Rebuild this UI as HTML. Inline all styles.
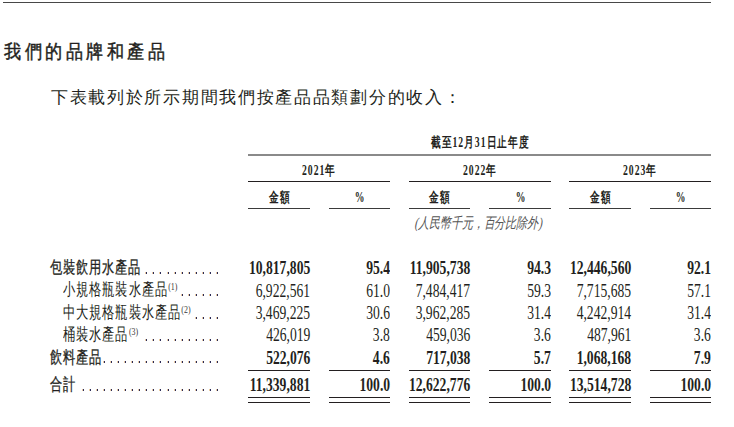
<!DOCTYPE html>
<html lang="zh-Hant"><head><meta charset="utf-8"><style>
html,body{margin:0;padding:0;background:#fff}
body{width:734px;height:427px;position:relative;overflow:hidden;font-family:"Liberation Serif",serif;color:#231f20}
.a{position:absolute;white-space:nowrap;line-height:1}
.r{position:absolute;background:#231f20;height:1px}
.d{position:absolute;width:2px;height:2px;background:linear-gradient(to right,#e9c9a0 50%,#2c2c58 50%)}
.n{position:absolute;white-space:nowrap;line-height:1;font-size:18.3px;transform-origin:100% 0;transform:scaleX(0.745);text-align:right}
.b{font-weight:bold}
.h{font-size:14px;font-weight:bold;letter-spacing:1.5px}
.l{font-size:17px;letter-spacing:1.2px;transform-origin:0 0;transform:scaleX(0.72)}
.lb{-webkit-text-stroke:0.3px #231f20;letter-spacing:1.1px}
</style></head><body>

<div class="r" style="left:3px;top:2px;width:708px;background:#484848"></div>
<div class="a" style="left:4px;top:41.9px;font-size:19px;letter-spacing:3.8px;transform-origin:0 0;transform:scaleX(0.9);-webkit-text-stroke:0.45px #231f20">我們的品牌和產品</div>
<div class="a" style="left:51px;top:90px;font-size:16.5px;letter-spacing:1.7px">下表載列於所示期間我們按產品品類劃分的收入：</div>
<div class="a h" style="left:431px;top:136px;transform-origin:0 0;transform:scaleX(0.69)">截至12月31日止年度</div>
<div class="r" style="left:248px;top:154px;width:463px;height:2px;background:#8a8a8a"></div>
<div class="a h" style="left:319.0px;top:163.5px;transform:translateX(-50%) scaleX(0.69)">2021年</div>
<div class="r" style="left:248px;top:181px;width:142px"></div>
<div class="a h" style="left:480.0px;top:163.5px;transform:translateX(-50%) scaleX(0.69)">2022年</div>
<div class="r" style="left:409px;top:181px;width:142px"></div>
<div class="a h" style="left:640.0px;top:163.5px;transform:translateX(-50%) scaleX(0.69)">2023年</div>
<div class="r" style="left:569px;top:181px;width:142px"></div>
<div class="a h" style="left:279.5px;top:190.5px;transform:translateX(-50%) scaleX(0.69)">金額</div>
<div class="r" style="left:248px;top:208px;width:62px;background:#3a3a3a"></div>
<div class="a h" style="left:360.0px;top:190.5px;transform:translateX(-50%) scaleX(0.69)">%</div>
<div class="r" style="left:329px;top:208px;width:61px;background:#3a3a3a"></div>
<div class="a h" style="left:440.0px;top:190.5px;transform:translateX(-50%) scaleX(0.69)">金額</div>
<div class="r" style="left:409px;top:208px;width:61px;background:#3a3a3a"></div>
<div class="a h" style="left:520.5px;top:190.5px;transform:translateX(-50%) scaleX(0.69)">%</div>
<div class="r" style="left:489px;top:208px;width:62px;background:#3a3a3a"></div>
<div class="a h" style="left:600.5px;top:190.5px;transform:translateX(-50%) scaleX(0.69)">金額</div>
<div class="r" style="left:569px;top:208px;width:62px;background:#3a3a3a"></div>
<div class="a h" style="left:681.0px;top:190.5px;transform:translateX(-50%) scaleX(0.69)">%</div>
<div class="r" style="left:650px;top:208px;width:61px;background:#3a3a3a"></div>
<div class="a" style="left:479px;top:216.2px;font-size:15px;color:#555;transform:translateX(-50%) scaleX(0.73) skewX(-16deg)">(人民幣千元，百分比除外)</div>
<div class="a l lb" style="left:50px;top:259.03px">包裝飲用水產品</div>
<div class="n b" style="right:424px;top:259.30px">10,817,805</div>
<div class="n b" style="right:344px;top:259.30px">95.4</div>
<div class="n b" style="right:264px;top:259.30px">11,905,738</div>
<div class="n b" style="right:183px;top:259.30px">94.3</div>
<div class="n b" style="right:103px;top:259.30px">12,446,560</div>
<div class="n b" style="right:23px;top:259.30px">92.1</div>
<div class="d" style="left:145px;top:272px"></div>
<div class="d" style="left:152px;top:272px"></div>
<div class="d" style="left:159px;top:272px"></div>
<div class="d" style="left:167px;top:272px"></div>
<div class="d" style="left:174px;top:272px"></div>
<div class="d" style="left:181px;top:272px"></div>
<div class="d" style="left:188px;top:272px"></div>
<div class="d" style="left:195px;top:272px"></div>
<div class="d" style="left:202px;top:272px"></div>
<div class="d" style="left:209px;top:272px"></div>
<div class="d" style="left:216px;top:272px"></div>
<div class="a l" style="left:63.3px;top:281.43px">小規格瓶裝水產品<span style="font-size:11px;line-height:0;vertical-align:5.2px;color:#3a3a3a;margin-left:0.5px;letter-spacing:0">(1)</span></div>
<div class="n" style="right:424px;top:281.70px">6,922,561</div>
<div class="n" style="right:344px;top:281.70px">61.0</div>
<div class="n" style="right:264px;top:281.70px">7,484,417</div>
<div class="n" style="right:183px;top:281.70px">59.3</div>
<div class="n" style="right:103px;top:281.70px">7,715,685</div>
<div class="n" style="right:23px;top:281.70px">57.1</div>
<div class="d" style="left:181px;top:294px"></div>
<div class="d" style="left:188px;top:294px"></div>
<div class="d" style="left:195px;top:294px"></div>
<div class="d" style="left:202px;top:294px"></div>
<div class="d" style="left:209px;top:294px"></div>
<div class="d" style="left:216px;top:294px"></div>
<div class="a l" style="left:63.3px;top:304.03px">中大規格瓶裝水產品<span style="font-size:11px;line-height:0;vertical-align:5.2px;color:#3a3a3a;margin-left:0.5px;letter-spacing:0">(2)</span></div>
<div class="n" style="right:424px;top:304.30px">3,469,225</div>
<div class="n" style="right:344px;top:304.30px">30.6</div>
<div class="n" style="right:264px;top:304.30px">3,962,285</div>
<div class="n" style="right:183px;top:304.30px">31.4</div>
<div class="n" style="right:103px;top:304.30px">4,242,914</div>
<div class="n" style="right:23px;top:304.30px">31.4</div>
<div class="d" style="left:195px;top:317px"></div>
<div class="d" style="left:202px;top:317px"></div>
<div class="d" style="left:209px;top:317px"></div>
<div class="d" style="left:216px;top:317px"></div>
<div class="a l" style="left:63.3px;top:326.13px">桶裝水產品<span style="font-size:11px;line-height:0;vertical-align:5.2px;color:#3a3a3a;margin-left:0.5px;letter-spacing:0">(3)</span></div>
<div class="n" style="right:424px;top:326.40px">426,019</div>
<div class="n" style="right:344px;top:326.40px">3.8</div>
<div class="n" style="right:264px;top:326.40px">459,036</div>
<div class="n" style="right:183px;top:326.40px">3.6</div>
<div class="n" style="right:103px;top:326.40px">487,961</div>
<div class="n" style="right:23px;top:326.40px">3.6</div>
<div class="d" style="left:145px;top:339px"></div>
<div class="d" style="left:152px;top:339px"></div>
<div class="d" style="left:159px;top:339px"></div>
<div class="d" style="left:167px;top:339px"></div>
<div class="d" style="left:174px;top:339px"></div>
<div class="d" style="left:181px;top:339px"></div>
<div class="d" style="left:188px;top:339px"></div>
<div class="d" style="left:195px;top:339px"></div>
<div class="d" style="left:202px;top:339px"></div>
<div class="d" style="left:209px;top:339px"></div>
<div class="d" style="left:216px;top:339px"></div>
<div class="a l lb" style="left:50px;top:348.73px">飲料產品</div>
<div class="n b" style="right:424px;top:349.00px">522,076</div>
<div class="n b" style="right:344px;top:349.00px">4.6</div>
<div class="n b" style="right:264px;top:349.00px">717,038</div>
<div class="n b" style="right:183px;top:349.00px">5.7</div>
<div class="n b" style="right:103px;top:349.00px">1,068,168</div>
<div class="n b" style="right:23px;top:349.00px">7.9</div>
<div class="d" style="left:103px;top:361px"></div>
<div class="d" style="left:110px;top:361px"></div>
<div class="d" style="left:117px;top:361px"></div>
<div class="d" style="left:124px;top:361px"></div>
<div class="d" style="left:131px;top:361px"></div>
<div class="d" style="left:138px;top:361px"></div>
<div class="d" style="left:145px;top:361px"></div>
<div class="d" style="left:152px;top:361px"></div>
<div class="d" style="left:159px;top:361px"></div>
<div class="d" style="left:167px;top:361px"></div>
<div class="d" style="left:174px;top:361px"></div>
<div class="d" style="left:181px;top:361px"></div>
<div class="d" style="left:188px;top:361px"></div>
<div class="d" style="left:195px;top:361px"></div>
<div class="d" style="left:202px;top:361px"></div>
<div class="d" style="left:209px;top:361px"></div>
<div class="d" style="left:216px;top:361px"></div>
<div class="a l lb" style="left:50px;top:375.93px">合計</div>
<div class="n b" style="right:424px;top:376.20px">11,339,881</div>
<div class="n b" style="right:344px;top:376.20px">100.0</div>
<div class="n b" style="right:264px;top:376.20px">12,622,776</div>
<div class="n b" style="right:183px;top:376.20px">100.0</div>
<div class="n b" style="right:103px;top:376.20px">13,514,728</div>
<div class="n b" style="right:23px;top:376.20px">100.0</div>
<div class="d" style="left:82px;top:389px"></div>
<div class="d" style="left:89px;top:389px"></div>
<div class="d" style="left:96px;top:389px"></div>
<div class="d" style="left:103px;top:389px"></div>
<div class="d" style="left:110px;top:389px"></div>
<div class="d" style="left:117px;top:389px"></div>
<div class="d" style="left:124px;top:389px"></div>
<div class="d" style="left:131px;top:389px"></div>
<div class="d" style="left:138px;top:389px"></div>
<div class="d" style="left:145px;top:389px"></div>
<div class="d" style="left:152px;top:389px"></div>
<div class="d" style="left:159px;top:389px"></div>
<div class="d" style="left:167px;top:389px"></div>
<div class="d" style="left:174px;top:389px"></div>
<div class="d" style="left:181px;top:389px"></div>
<div class="d" style="left:188px;top:389px"></div>
<div class="d" style="left:195px;top:389px"></div>
<div class="d" style="left:202px;top:389px"></div>
<div class="d" style="left:209px;top:389px"></div>
<div class="d" style="left:216px;top:389px"></div>
<div class="r" style="left:248px;top:370px;width:62px"></div>
<div class="r" style="left:248px;top:397px;width:62px"></div>
<div class="r" style="left:248px;top:402px;width:62px"></div>
<div class="r" style="left:329px;top:370px;width:61px"></div>
<div class="r" style="left:329px;top:397px;width:61px"></div>
<div class="r" style="left:329px;top:402px;width:61px"></div>
<div class="r" style="left:409px;top:370px;width:61px"></div>
<div class="r" style="left:409px;top:397px;width:61px"></div>
<div class="r" style="left:409px;top:402px;width:61px"></div>
<div class="r" style="left:489px;top:370px;width:62px"></div>
<div class="r" style="left:489px;top:397px;width:62px"></div>
<div class="r" style="left:489px;top:402px;width:62px"></div>
<div class="r" style="left:569px;top:370px;width:62px"></div>
<div class="r" style="left:569px;top:397px;width:62px"></div>
<div class="r" style="left:569px;top:402px;width:62px"></div>
<div class="r" style="left:650px;top:370px;width:61px"></div>
<div class="r" style="left:650px;top:397px;width:61px"></div>
<div class="r" style="left:650px;top:402px;width:61px"></div>
</body></html>
